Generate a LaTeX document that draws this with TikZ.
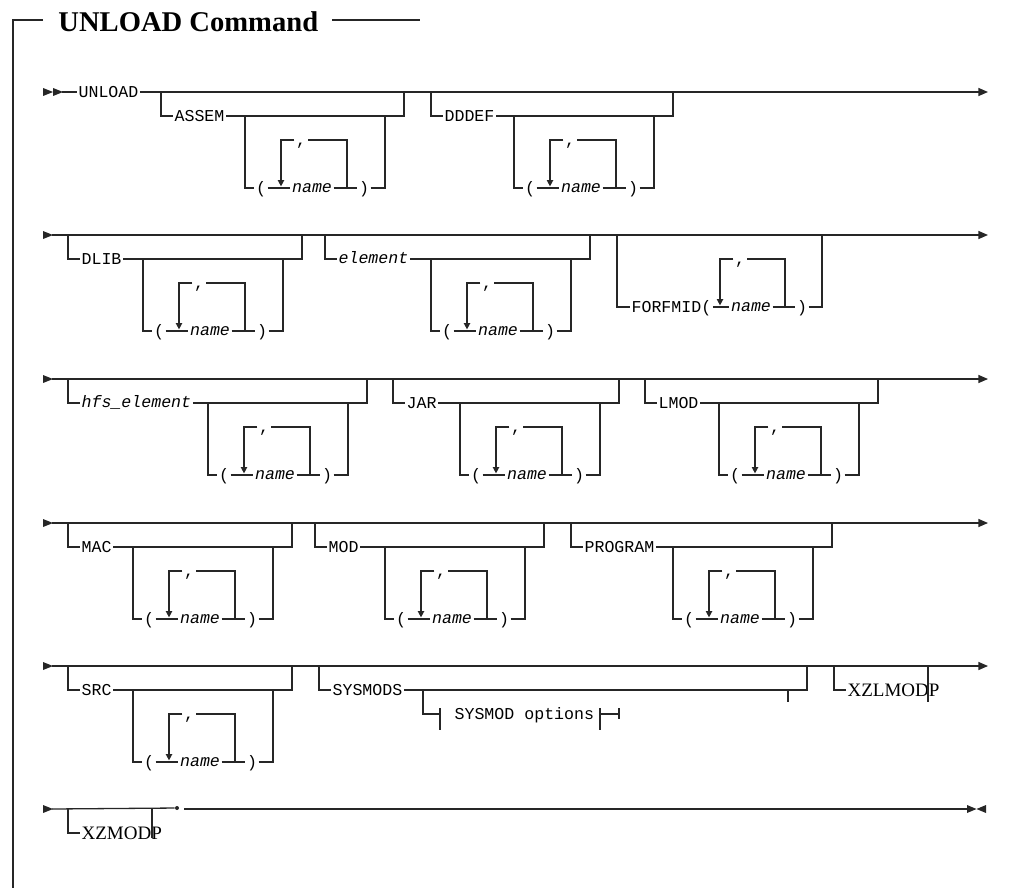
\documentclass[tikz,border=0pt]{standalone}
\usepackage{fontspec}
\newfontfamily\railfont{Liberation Mono}
\newfontfamily\headfont{Liberation Serif}
\usetikzlibrary{arrows.meta, positioning, calc}

% start marker of a rail line
\newcommand{\railin}[2]{\fill[black!85] (#1,{#2-4}) -- ({#1+10},#2) -- (#1,{#2+4}) -- cycle;}

% optional keyword, followed by an optional repeatable (name) list
% #1 id, #2 main line y, #3 branch x, #4 list x, #5 keyword, #6 keyword style
\newcommand{\optgroup}[6]{%
  \coordinate (#1-a) at (#3,#2);
  \coordinate (#1-f) at ({#4+159},#2);
  \coordinate (#1-b) at (#4,{#2+24});
  \coordinate (#1-e) at ({#4+140},{#2+24});
  \coordinate (#1-c) at ({#4+36},{#2+96});
  \coordinate (#1-d) at ({#4+102},{#2+96});
  \node[#6, anchor=west] (#1) at ({#3+12},{#2+24}) {#5};
  \node[kw] (#1-open) at ({#4+16},{#2+96}) {(};
  \node[var] (#1-name) at ({#4+67},{#2+96}) {name};
  \node[kw] (#1-close) at ({#4+119},{#2+96}) {)};
  \node[kw] (#1-sep) at ({#4+56},{#2+48}) {,};
  \draw[rail] (#1-a) |- (#1);
  \draw[rail] (#1) -| (#1-f);
  \draw[rail] (#1-b) |- (#1-open);
  \draw[rail] (#1-open) -- (#1-name);
  \draw[rail] (#1-name) -- (#1-close);
  \draw[rail] (#1-close) -| (#1-e);
  \draw[rail] (#1-d) |- (#1-sep);
  \draw[rail, loopback] (#1-sep) -| (#1-c);
}

\begin{document}
\begin{tikzpicture}[
    x=0.5pt, y=-0.5pt,
    rail/.style={line width=0.65pt, draw=black!85},
    kw/.style={font=\railfont\fontsize{8.3}{9}\selectfont, inner xsep=0.6pt, inner ysep=0pt, text height=5.4pt, text depth=0pt},
    var/.style={kw, font=\railfont\itshape\fontsize{8.3}{9}\selectfont, text height=4.3pt},
    serifkw/.style={font=\headfont\fontsize{9.5}{11}\selectfont, inner xsep=0.6pt, inner ysep=0pt, text height=6.3pt, text depth=0pt},
    headline/.style={font=\headfont\bfseries\fontsize{14.3}{16}\selectfont, inner sep=0pt},
    loopback/.style={-{Triangle[length=3.2pt, width=3.2pt]}, shorten >=0.8pt},
    rowend/.style={-{Triangle[length=4.8pt, width=4pt]}}
  ]
  \useasboundingbox (0,0) rectangle (1015,888);

  % Title and frame
  \node[headline, anchor=base west] (title) at (58,32) {UNLOAD Command};
  \coordinate (frame-l) at (43,20);
  \coordinate (frame-top) at (13,20);
  \coordinate (frame-bot) at (13,888);
  \coordinate (frame-r) at (332,20);
  \coordinate (frame-end) at (420,20);
  \draw[rail] (frame-l) -- (frame-top) -- (frame-bot);
  \draw[rail] (frame-r) -- (frame-end);

  % Row 1
  \railin{43}{92} \railin{53}{92}
  \coordinate (r1-in) at (62,92);
  \coordinate (r1-out) at (988,92);
  \node[kw, anchor=west] (unload) at (77,92) {UNLOAD};
  \draw[rail] (r1-in) -- (unload);
  \draw[rail, rowend] (unload) -- (r1-out);
  \optgroup{assem}{92}{161}{245}{ASSEM}{kw}
  \optgroup{dddef}{92}{431}{514}{DDDEF}{kw}

  % Row 2
  \railin{43}{235}
  \coordinate (r2-in) at (52,235);
  \coordinate (r2-out) at (988,235);
  \draw[rail, rowend] (r2-in) -- (r2-out);
  \optgroup{dlib}{235}{68}{143}{DLIB}{kw}
  \optgroup{element}{235}{325}{431}{element}{var}
  \coordinate (forfmid-a) at (617,235);
  \coordinate (forfmid-f) at (822,235);
  \coordinate (forfmid-c) at (720,307);
  \coordinate (forfmid-d) at (785,307);
  \node[kw, anchor=west] (forfmid) at (630,307) {FORFMID(};
  \node[var] (forfmid-name) at (751,307) {name};
  \node[kw] (forfmid-close) at (802,307) {)};
  \node[kw] (forfmid-sep) at (740,259) {,};
  \draw[rail] (forfmid-a) |- (forfmid);
  \draw[rail] (forfmid) -- (forfmid-name);
  \draw[rail] (forfmid-name) -- (forfmid-close);
  \draw[rail] (forfmid-close) -| (forfmid-f);
  \draw[rail] (forfmid-d) |- (forfmid-sep);
  \draw[rail, loopback] (forfmid-sep) -| (forfmid-c);

  % Row 3
  \railin{43}{379}
  \coordinate (r3-in) at (52,379);
  \coordinate (r3-out) at (988,379);
  \draw[rail, rowend] (r3-in) -- (r3-out);
  \optgroup{hfs}{379}{68}{208}{hfs\_element}{var}
  \optgroup{jar}{379}{393}{460}{JAR}{kw}
  \optgroup{lmod}{379}{645}{719}{LMOD}{kw}

  % Row 4
  \railin{43}{523}
  \coordinate (r4-in) at (52,523);
  \coordinate (r4-out) at (988,523);
  \draw[rail, rowend] (r4-in) -- (r4-out);
  \optgroup{mac}{523}{68}{133}{MAC}{kw}
  \optgroup{mod}{523}{315}{385}{MOD}{kw}
  \optgroup{program}{523}{571}{673}{PROGRAM}{kw}

  % Row 5
  \railin{43}{666}
  \coordinate (r5-in) at (52,666);
  \coordinate (r5-out) at (988,666);
  \draw[rail, rowend] (r5-in) -- (r5-out);
  \optgroup{src}{666}{68}{133}{SRC}{kw}
  \coordinate (sysmods-a) at (319,666);
  \coordinate (sysmods-f) at (807,666);
  \coordinate (sysmods-b) at (423,690);
  \coordinate (sysmods-tick) at (788,690);
  \node[kw, anchor=west] (sysmods) at (331,690) {SYSMODS};
  \draw[rail] (sysmods-a) |- (sysmods);
  \draw[rail] (sysmods) -| (sysmods-f);
  \draw[rail] (sysmods-tick) -- ++(0,12);
  \coordinate (frag-in) at (440,714);
  \coordinate (frag-out) at (600,714);
  \coordinate (frag-end) at (619,714);
  \node[kw, anchor=west] (sysopts) at (453,714) {SYSMOD options};
  \draw[rail] (sysmods-b) |- (frag-in);
  \draw[rail] (frag-in) ++(0,-6) -- ++(0,22);
  \draw[rail] (frag-out) ++(0,-6) -- ++(0,22);
  \draw[rail] (frag-out) -- (frag-end);
  \draw[rail] (frag-end) ++(0,-6) -- ++(0,11);
  \coordinate (xzlmodp-a) at (834,666);
  \coordinate (xzlmodp-f) at (928,666);
  \node[serifkw, anchor=west] (xzlmodp) at (846,690) {XZLMODP};
  \draw[rail] (xzlmodp-a) |- (xzlmodp);
  \draw[rail] (xzlmodp-f) -- ++(0,36);

  % Row 6
  \railin{43}{809}
  \coordinate (r6-in) at (52,809);
  \coordinate (r6-go) at (184,809);
  \coordinate (r6-out) at (967,809);
  \node[circle, fill=black!85, inner sep=0pt, minimum size=2pt] (stop) at (177,808) {};
  \draw[rail] (r6-in) -- (stop);
  \draw[rail, line width=1.1pt] (r6-go) -- ++(18,0);
  \draw[rail] (r6-go) -- (r6-out);
  \fill[black!85] (967,805) -- (976.5,809) -- (967,813) -- cycle;
  \fill[black!85] (986,805) -- (976.5,809) -- (986,813) -- cycle;
  \coordinate (xzmodp-a) at (68,809);
  \coordinate (xzmodp-f) at (152,809);
  \node[serifkw, anchor=west] (xzmodp) at (80,833) {XZMODP};
  \draw[rail] (xzmodp-a) |- (xzmodp);
  \draw[rail] (xzmodp-f) -- ++(0,29);

\end{tikzpicture}
\end{document}
